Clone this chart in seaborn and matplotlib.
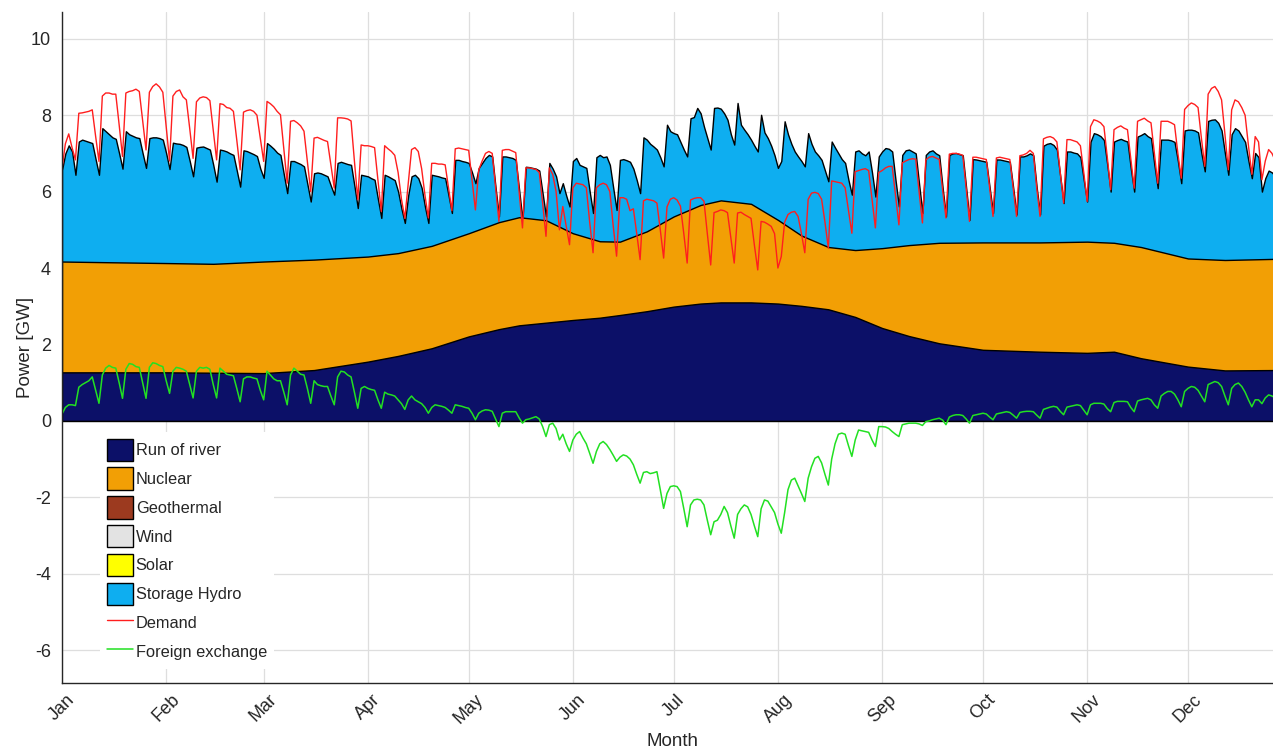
import numpy as np
import pandas as pd
import matplotlib
matplotlib.use('Agg')
import matplotlib.pyplot as plt
import matplotlib.dates as mdates
from matplotlib.patches import Patch
from matplotlib.lines import Line2D
import seaborn as sns

# =============================================================================
# Data (GW). Daily rows are Mon..Sun, first row starts Wed 1 Jan 2020
# =============================================================================

# top of the storage hydro layer (= total generation)
hydro_top_weeks = [
    [6.57, 7.00, 7.21, 7.05, 6.44],
    [7.31, 7.36, 7.33, 7.30, 7.27, 6.85, 6.44],
    [7.66, 7.58, 7.50, 7.42, 7.38, 7.00, 6.60],
    [7.58, 7.50, 7.46, 7.42, 7.40, 7.00, 6.62],
    [7.40, 7.42, 7.42, 7.40, 7.36, 7.00, 6.59],
    [7.28, 7.26, 7.25, 7.22, 7.17, 6.80, 6.40],
    [7.15, 7.17, 7.18, 7.14, 7.10, 6.70, 6.26],
    [7.10, 7.08, 7.05, 7.00, 6.96, 6.55, 6.13],
    [7.08, 7.06, 7.02, 6.98, 6.93, 6.60, 6.36],
    [7.27, 7.20, 7.12, 7.02, 6.96, 6.45, 5.96],
    [6.80, 6.80, 6.76, 6.72, 6.66, 6.20, 5.74],
    [6.48, 6.50, 6.48, 6.44, 6.40, 6.15, 5.92],
    [6.75, 6.78, 6.75, 6.72, 6.70, 6.15, 5.57],
    [6.44, 6.42, 6.40, 6.35, 6.31, 5.80, 5.31],
    [6.44, 6.40, 6.35, 6.30, 6.00, 5.55, 5.18],
    [5.90, 6.40, 6.44, 6.35, 6.10, 5.60, 5.18],
    [6.44, 6.42, 6.40, 6.37, 6.35, 5.90, 5.44],
    [6.83, 6.83, 6.80, 6.78, 6.75, 6.50, 6.22],
    [6.62, 6.75, 6.88, 6.96, 6.92, 6.10, 5.35],
    [6.92, 6.92, 6.90, 6.88, 6.83, 6.05, 5.26],
    [6.65, 6.64, 6.62, 6.60, 6.55, 5.95, 5.35],
    [6.75, 6.60, 6.40, 5.96, 6.22, 5.90, 5.61],
    [6.80, 6.88, 6.70, 6.66, 6.62, 6.00, 5.44],
    [6.90, 6.96, 6.90, 6.92, 6.70, 6.10, 5.52],
    [6.83, 6.85, 6.82, 6.78, 6.60, 6.30, 5.96],
    [7.42, 7.36, 7.25, 7.18, 7.10, 6.90, 6.66],
    [7.75, 7.58, 7.53, 7.50, 7.30, 7.10, 6.92],
    [7.92, 7.95, 8.19, 8.05, 7.70, 7.40, 7.10],
    [8.19, 8.20, 8.17, 8.05, 7.88, 7.50, 7.23],
    [8.32, 7.75, 7.62, 7.50, 7.36, 7.20, 7.05],
    [8.01, 7.55, 7.40, 7.20, 6.95, 6.62, 6.80],
    [7.84, 7.50, 7.25, 7.05, 6.92, 6.80, 6.66],
    [7.53, 7.25, 7.05, 6.95, 6.83, 6.55, 6.27],
    [7.31, 7.15, 7.00, 6.85, 6.75, 6.30, 5.92],
    [7.05, 7.08, 7.00, 6.95, 7.05, 6.50, 5.87],
    [6.92, 7.05, 7.14, 7.12, 7.05, 6.30, 5.61],
    [6.96, 7.08, 7.10, 7.05, 7.00, 6.20, 5.44],
    [6.96, 7.05, 7.08, 7.00, 6.95, 6.10, 5.35],
    [6.96, 7.00, 7.01, 6.98, 6.95, 6.10, 5.26],
    [6.85, 6.84, 6.82, 6.80, 6.78, 6.10, 5.44],
    [6.84, 6.84, 6.82, 6.80, 6.78, 6.10, 5.40],
    [6.92, 6.92, 6.95, 7.00, 6.95, 6.10, 5.40],
    [7.20, 7.25, 7.27, 7.22, 7.10, 6.40, 5.70],
    [7.05, 7.05, 7.02, 7.00, 6.90, 6.30, 5.74],
    [7.30, 7.53, 7.50, 7.45, 7.35, 6.70, 6.00],
    [7.31, 7.35, 7.38, 7.34, 7.31, 6.60, 6.00],
    [7.44, 7.48, 7.53, 7.45, 7.40, 6.70, 6.09],
    [7.36, 7.36, 7.36, 7.34, 7.30, 6.80, 6.22],
    [7.60, 7.62, 7.62, 7.60, 7.55, 7.00, 6.53],
    [7.85, 7.88, 7.89, 7.80, 7.60, 7.00, 6.44],
    [7.50, 7.66, 7.60, 7.45, 7.30, 6.80, 6.35],
    [7.01, 6.90, 6.00, 6.35, 6.55, 6.50, 6.40],
]

demand_weeks = [
    [6.60, 7.25, 7.51, 7.15, 6.83],
    [8.05, 8.06, 8.08, 8.10, 8.14, 7.45, 6.79],
    [8.50, 8.58, 8.58, 8.55, 8.55, 7.75, 6.92],
    [8.58, 8.62, 8.64, 8.68, 8.62, 7.85, 7.09],
    [8.60, 8.75, 8.82, 8.74, 8.60, 7.70, 6.80],
    [8.50, 8.62, 8.66, 8.48, 8.40, 7.65, 6.87],
    [8.35, 8.45, 8.48, 8.46, 8.38, 7.60, 6.83],
    [8.30, 8.28, 8.20, 8.18, 8.10, 7.35, 6.57],
    [8.08, 8.12, 8.14, 8.10, 8.00, 7.40, 6.79],
    [8.36, 8.30, 8.22, 8.10, 8.01, 7.10, 6.22],
    [7.84, 7.86, 7.80, 7.72, 7.58, 6.80, 6.00],
    [7.40, 7.42, 7.38, 7.34, 7.31, 6.70, 6.09],
    [7.93, 7.93, 7.92, 7.90, 7.85, 6.80, 5.79],
    [7.22, 7.20, 7.20, 7.18, 7.15, 6.30, 5.48],
    [7.20, 7.12, 7.05, 6.95, 6.50, 5.80, 5.30],
    [6.20, 7.10, 7.15, 7.05, 6.60, 5.90, 5.31],
    [6.74, 6.74, 6.72, 6.72, 6.70, 6.10, 5.50],
    [7.12, 7.14, 7.12, 7.10, 7.08, 6.30, 5.52],
    [6.57, 6.80, 7.00, 7.05, 7.00, 6.10, 5.22],
    [7.08, 7.10, 7.10, 7.06, 7.02, 6.00, 5.05],
    [6.62, 6.62, 6.60, 6.58, 6.50, 5.70, 4.83],
    [6.62, 6.45, 6.00, 5.00, 5.61, 5.10, 4.61],
    [6.10, 6.22, 6.20, 6.18, 6.10, 5.20, 4.40],
    [6.10, 6.18, 6.22, 6.18, 6.00, 5.10, 4.31],
    [5.84, 5.84, 5.80, 5.50, 5.55, 4.90, 4.22],
    [5.76, 5.80, 5.78, 5.76, 5.70, 5.00, 4.26],
    [5.60, 5.80, 5.84, 5.78, 5.62, 4.90, 4.13],
    [5.78, 5.82, 5.84, 5.84, 5.75, 4.90, 4.08],
    [5.45, 5.48, 5.52, 5.50, 5.45, 4.80, 4.13],
    [5.44, 5.46, 5.40, 5.35, 5.30, 4.60, 3.95],
    [5.22, 5.20, 5.15, 5.09, 4.90, 4.00, 4.30],
    [5.20, 5.40, 5.46, 5.48, 5.35, 4.90, 4.40],
    [5.80, 5.96, 5.98, 5.95, 5.80, 5.20, 4.52],
    [6.28, 6.26, 6.24, 6.22, 6.10, 5.50, 4.91],
    [6.52, 6.55, 6.58, 6.60, 6.55, 5.80, 5.05],
    [6.50, 6.55, 6.62, 6.66, 6.66, 5.90, 5.13],
    [6.75, 6.80, 6.84, 6.86, 6.85, 6.00, 5.18],
    [6.83, 6.90, 6.92, 6.88, 6.84, 6.05, 5.31],
    [6.98, 7.00, 7.00, 6.98, 6.95, 6.10, 5.22],
    [6.90, 6.90, 6.88, 6.86, 6.84, 6.10, 5.35],
    [6.88, 6.90, 6.88, 6.86, 6.84, 6.10, 5.35],
    [6.94, 6.96, 7.00, 7.08, 7.00, 6.10, 5.35],
    [7.38, 7.42, 7.44, 7.40, 7.30, 6.50, 5.70],
    [7.36, 7.36, 7.33, 7.30, 7.20, 6.50, 5.74],
    [7.70, 7.88, 7.85, 7.80, 7.70, 6.90, 6.05],
    [7.62, 7.68, 7.72, 7.66, 7.62, 6.85, 6.09],
    [7.84, 7.88, 7.92, 7.85, 7.80, 7.00, 6.22],
    [7.84, 7.84, 7.84, 7.80, 7.75, 7.00, 6.35],
    [8.15, 8.25, 8.32, 8.28, 8.20, 7.40, 6.66],
    [8.55, 8.70, 8.75, 8.62, 8.40, 7.50, 6.57],
    [8.14, 8.40, 8.35, 8.20, 8.00, 7.20, 6.45],
    [7.44, 7.30, 6.31, 6.80, 7.10, 7.00, 6.80],
]

exchange_weeks = [
    [0.18, 0.35, 0.42, 0.42, 0.40],
    [0.88, 0.95, 1.00, 1.05, 1.15, 0.80, 0.46],
    [1.20, 1.38, 1.45, 1.40, 1.38, 1.00, 0.59],
    [1.35, 1.50, 1.48, 1.42, 1.40, 1.00, 0.59],
    [1.40, 1.52, 1.50, 1.45, 1.42, 1.05, 0.72],
    [1.30, 1.40, 1.38, 1.35, 1.30, 0.95, 0.60],
    [1.30, 1.40, 1.38, 1.40, 1.35, 0.95, 0.60],
    [1.38, 1.30, 1.22, 1.20, 1.18, 0.85, 0.50],
    [1.10, 1.15, 1.15, 1.12, 1.10, 0.80, 0.55],
    [1.30, 1.20, 1.10, 1.05, 1.05, 0.75, 0.42],
    [1.20, 1.38, 1.30, 1.22, 1.20, 0.85, 0.46],
    [1.05, 0.95, 0.92, 0.90, 0.90, 0.65, 0.42],
    [1.15, 1.30, 1.28, 1.20, 1.15, 0.75, 0.33],
    [0.85, 0.90, 0.85, 0.82, 0.80, 0.55, 0.33],
    [0.75, 0.70, 0.68, 0.65, 0.55, 0.45, 0.30],
    [0.55, 0.65, 0.55, 0.50, 0.45, 0.35, 0.20],
    [0.35, 0.42, 0.40, 0.38, 0.35, 0.28, 0.20],
    [0.42, 0.40, 0.38, 0.35, 0.33, 0.20, 0.03],
    [0.20, 0.26, 0.29, 0.28, 0.25, 0.05, -0.15],
    [0.20, 0.24, 0.24, 0.24, 0.24, 0.08, -0.06],
    [0.03, 0.05, 0.08, 0.11, 0.05, -0.15, -0.41],
    [-0.10, -0.06, -0.20, -0.50, -0.35, -0.60, -0.80],
    [-0.50, -0.35, -0.28, -0.45, -0.60, -0.85, -1.11],
    [-0.80, -0.60, -0.54, -0.62, -0.75, -0.90, -1.06],
    [-0.95, -0.89, -0.92, -1.00, -1.15, -1.40, -1.63],
    [-1.35, -1.33, -1.38, -1.36, -1.33, -1.80, -2.29],
    [-1.90, -1.72, -1.70, -1.72, -1.85, -2.30, -2.77],
    [-2.20, -2.07, -2.05, -2.07, -2.20, -2.60, -2.98],
    [-2.64, -2.60, -2.45, -2.24, -2.40, -2.75, -3.07],
    [-2.45, -2.30, -2.20, -2.25, -2.45, -2.75, -3.03],
    [-2.30, -2.07, -2.10, -2.25, -2.40, -2.70, -2.94],
    [-2.40, -1.80, -1.55, -1.50, -1.70, -1.90, -2.11],
    [-1.50, -1.20, -0.98, -0.93, -1.10, -1.40, -1.68],
    [-1.00, -0.60, -0.35, -0.32, -0.35, -0.65, -0.93],
    [-0.50, -0.24, -0.26, -0.28, -0.30, -0.50, -0.67],
    [-0.15, -0.15, -0.16, -0.20, -0.28, -0.35, -0.41],
    [-0.10, -0.08, -0.06, -0.06, -0.06, -0.08, -0.12],
    [-0.02, 0.00, 0.03, 0.05, 0.07, 0.02, -0.10],
    [0.10, 0.14, 0.16, 0.16, 0.14, 0.05, -0.06],
    [0.14, 0.16, 0.18, 0.20, 0.18, 0.10, 0.03],
    [0.18, 0.20, 0.22, 0.24, 0.22, 0.15, 0.07],
    [0.22, 0.24, 0.25, 0.25, 0.24, 0.15, 0.07],
    [0.30, 0.33, 0.36, 0.38, 0.36, 0.25, 0.16],
    [0.36, 0.38, 0.40, 0.42, 0.40, 0.28, 0.16],
    [0.42, 0.46, 0.46, 0.46, 0.44, 0.32, 0.24],
    [0.48, 0.51, 0.51, 0.51, 0.50, 0.35, 0.24],
    [0.52, 0.55, 0.57, 0.59, 0.55, 0.42, 0.33],
    [0.65, 0.72, 0.77, 0.77, 0.70, 0.55, 0.37],
    [0.77, 0.85, 0.90, 0.88, 0.80, 0.65, 0.50],
    [0.95, 0.99, 1.03, 1.00, 0.90, 0.65, 0.42],
    [0.85, 0.95, 0.99, 0.90, 0.75, 0.55, 0.37],
    [0.55, 0.55, 0.45, 0.60, 0.68, 0.65, 0.60],
]

# smooth layers, read at these day-of-year points
knot_days = [0, 15, 31, 45, 60, 75, 91, 100, 110, 121, 130, 136, 144, 152, 160, 166,
             174, 182, 190, 196, 205, 213, 220, 228, 236, 244, 252, 261, 274, 291, 305,
             313, 321, 335, 346, 361]
ror_top = [1.27, 1.27, 1.27, 1.26, 1.25, 1.33, 1.55, 1.70, 1.90, 2.21, 2.40, 2.50, 2.57,
           2.64, 2.70, 2.77, 2.87, 2.99, 3.07, 3.10, 3.10, 3.07, 3.01, 2.92, 2.72, 2.43,
           2.22, 2.03, 1.86, 1.81, 1.78, 1.81, 1.64, 1.42, 1.32, 1.33]
nuclear_top = [4.17, 4.15, 4.13, 4.11, 4.17, 4.22, 4.30, 4.39, 4.58, 4.91, 5.20, 5.33, 5.25,
               4.91, 4.70, 4.69, 4.96, 5.35, 5.65, 5.77, 5.68, 5.26, 4.85, 4.55, 4.47, 4.52,
               4.60, 4.66, 4.67, 4.67, 4.69, 4.66, 4.55, 4.25, 4.21, 4.24]

labels = ['Run of river', 'Nuclear', 'Geothermal', 'Wind', 'Solar', 'Storage Hydro',
          'Demand', 'Foreign exchange']
colors = ['#0c1068', '#f29f05', '#9c3a1f', '#e3e3e3', '#ffff00', '#0eaef0']
c_demand = '#ff1e1e'
c_exchange = '#22e022'

# =============================================================================
# Build series
# =============================================================================
hydro_top = np.concatenate(hydro_top_weeks)
demand = np.concatenate(demand_weeks)
exchange = np.concatenate(exchange_weeks)

start = pd.Timestamp('2020-01-01')
days = pd.date_range(start, periods=len(hydro_top), freq='D')
knot_dates = start + pd.to_timedelta(knot_days, unit='D')

# =============================================================================
# Plot
# =============================================================================
sns.set_style('white')
plt.rcParams['font.family'] = ['Liberation Sans', 'DejaVu Sans']
plt.rcParams['axes.unicode_minus'] = False

fig = plt.figure(figsize=(12.73, 7.5), dpi=100)
ax = fig.add_axes([62 / 1273, 1 - 683 / 750, 1 - 62 / 1273, 671 / 750])

ax.grid(True, color='#dedede', linewidth=0.9)
ax.set_axisbelow(True)

# layers painted back to front, each from zero up to its cumulative top
ax.fill_between(days, 0, hydro_top, facecolor=colors[5], edgecolor='black', linewidth=1.0, zorder=2)
ax.fill_between(knot_dates, 0, nuclear_top, facecolor=colors[1], edgecolor='black', linewidth=1.0, zorder=3)
ax.fill_between(knot_dates, 0, ror_top, facecolor=colors[0], edgecolor='black', linewidth=1.0, zorder=4)

sns.lineplot(x=days, y=demand, color=c_demand, linewidth=1.0, ax=ax, zorder=5)
sns.lineplot(x=days, y=exchange, color=c_exchange, linewidth=1.1, ax=ax, zorder=6)

ax.set_xlim(start, start + pd.Timedelta(days=360.3))
ax.set_ylim(-6.86, 10.7)
ax.set_yticks(range(-6, 11, 2))
ax.xaxis.set_major_locator(mdates.MonthLocator())
ax.xaxis.set_major_formatter(mdates.DateFormatter('%b'))
plt.setp(ax.get_xticklabels(), rotation=45, ha='center')

ax.tick_params(direction='in', length=4.5, width=0.9, color='#262626',
               labelsize=13, labelcolor='#262626')
ax.tick_params(axis='y', pad=8)
ax.tick_params(axis='x', pad=6)
for s in ['top', 'right']:
    ax.spines[s].set_visible(False)
for s in ['left', 'bottom']:
    ax.spines[s].set_color('#262626')
    ax.spines[s].set_linewidth(1.0)
    ax.spines[s].set_zorder(10)

ax.set_xlabel('Month', fontsize=13.5, color='#262626')
ax.set_ylabel('Power [GW]', fontsize=13.5, color='#262626')
ax.xaxis.set_label_coords(0.504, -0.0745)
ax.yaxis.set_label_coords(-0.023, 0.5)

handles = [Patch(facecolor=c, edgecolor='black', linewidth=1.0) for c in colors]
handles += [Line2D([], [], color=c_demand, linewidth=1.0),
            Line2D([], [], color=c_exchange, linewidth=1.1)]
leg = ax.legend(handles, labels, loc='upper left',
                bbox_to_anchor=(100 / 1273, 1 - 432 / 750), bbox_transform=fig.transFigure,
                frameon=True, facecolor='white', edgecolor='none', framealpha=1,
                fontsize=11.8, handlelength=1.63, handleheight=1.715, labelspacing=0.4,
                handletextpad=0.15, borderpad=0.4, borderaxespad=0, fancybox=False)
leg.set_zorder(20)

fig.savefig('out.png', dpi=100)
